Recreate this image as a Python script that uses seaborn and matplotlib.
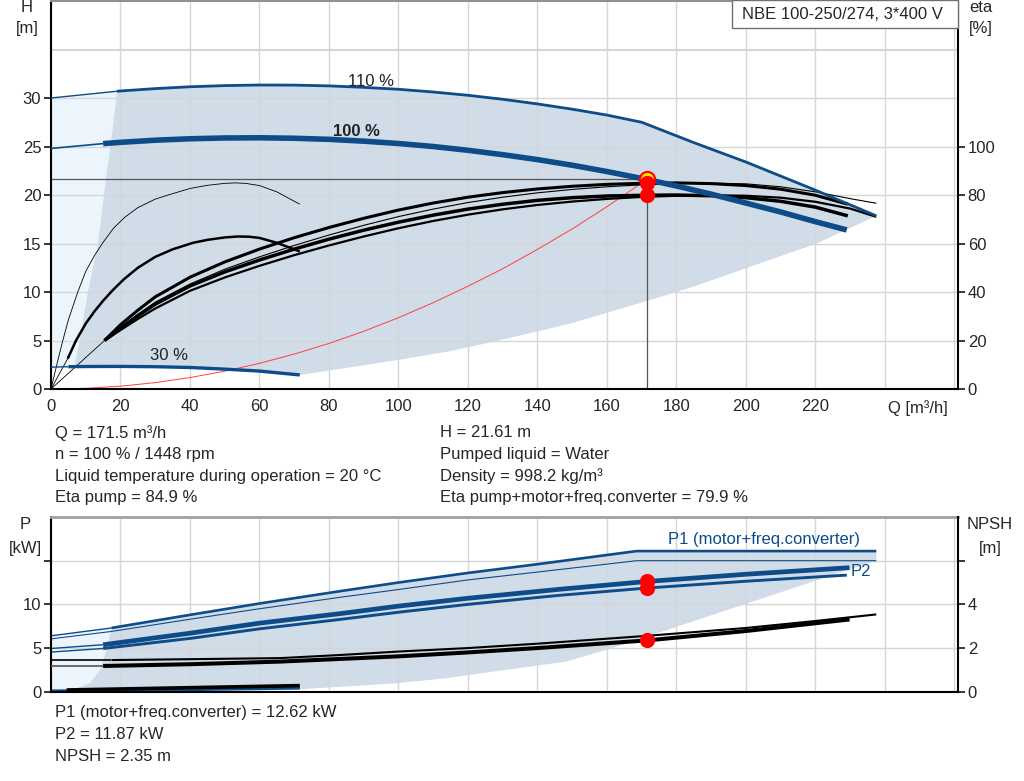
import matplotlib
matplotlib.use("Agg")
import matplotlib.pyplot as plt
import seaborn as sns

sns.set_style("white")
plt.rcParams["font.family"] = ["Liberation Sans", "DejaVu Sans"]
plt.rcParams["font.size"] = 12

BLUE = "#0d4c89"
FILL = "#d0dce8"
LIGHT = "#edf5fc"
GRID = "#d6d6d6"

# ---------------- head curves, H [m] ----------------
q_110_ext = [0, 19]
h_110_ext = [30.0, 30.7]
q_110 = [19, 30, 40, 50, 60, 70, 80, 90, 100, 110, 120, 130, 140, 150, 160, 170,
         185, 200, 220, 237.5]
h_110 = [30.7, 30.97, 31.16, 31.28, 31.34, 31.33, 31.25, 31.1, 30.9, 30.62, 30.28,
         29.87, 29.39, 28.85, 28.24, 27.5, 25.4, 23.4, 20.5, 17.85]

q_100_ext = [0, 15]
h_100_ext = [24.8, 25.3]
q_100 = [15, 20, 30, 40, 50, 60, 70, 80, 90, 100, 110, 120, 130, 140, 150, 160,
         171.5, 180, 190, 200, 210, 220, 229]
h_100 = [25.3, 25.43, 25.65, 25.8, 25.88, 25.9, 25.85, 25.74, 25.55, 25.31, 25.0,
         24.61, 24.16, 23.65, 23.07, 22.42, 21.6, 20.93, 20.09, 19.17, 18.25, 17.25, 16.4]

q_30_ext = [0, 5]
h_30_ext = [2.25, 2.3]
q_30 = [5, 10, 20, 30, 40, 50, 60, 71.6]
h_30 = [2.3, 2.32, 2.33, 2.3, 2.22, 2.05, 1.85, 1.45]

# system curve through duty point
q_sys = [0, 10, 20, 30, 40, 50, 60, 70, 80, 90, 100, 110, 120, 130, 140, 150, 160, 171.5]
h_sys = [0, 0.07, 0.29, 0.66, 1.18, 1.84, 2.65, 3.6, 4.7, 5.95, 7.35, 8.9, 10.6,
         12.4, 14.4, 16.5, 18.8, 21.61]

# operating area edges (H chart)
minflow_q = [19, 17.8, 16.7, 15.9, 13.5, 10.6, 8.2, 6.7]
minflow_h = [30.7, 27, 24, 21.95, 15, 10, 4.85, 2.36]
lower_q = [237.5, 220.3, 185.8, 175.2, 149.3, 128.2, 120.5, 113.8, 99.4, 71.6]
lower_h = [17.85, 15.0, 10.67, 9.47, 6.73, 4.95, 4.34, 3.83, 2.97, 1.44]

# ---------------- efficiency curves, eta [%] ----------------
q_eta_100 = [15.4, 20, 25, 30, 40, 50, 60, 70, 80, 90, 100, 110, 120, 130, 140, 150,
             160, 171.5, 180, 190, 200, 210, 220, 229.3]
eta_pump_100 = [20, 26.5, 32.5, 38, 46.1, 52.4, 57.7, 62.4, 66.6, 70.4, 73.8, 76.7,
                79.1, 81, 82.5, 83.6, 84.4, 84.9, 85.0, 84.7, 83.9, 82.4, 79.9, 76.2]
eta_tot_100 = [20, 25, 30.2, 35, 42.5, 48.3, 53.2, 57.7, 61.8, 65.5, 68.8, 71.7,
               74.2, 76.2, 77.8, 78.9, 79.6, 79.9, 80, 79.7, 78.9, 77.4, 75, 71.4]
q_eta_110 = [15.4, 20, 25, 30, 40, 50, 60, 70, 80, 90, 100, 110, 120, 130, 140, 150,
             160, 170, 180, 190, 200, 210, 220, 230, 237.5]
eta_pump_110 = [20, 25.3, 30.8, 35.8, 43.3, 49.4, 54.5, 59.2, 63.5, 67.5, 71.1, 74.2,
                76.9, 79.1, 80.9, 82.3, 83.4, 84.2, 84.7, 84.9, 84.6, 83.4, 81.3, 78.5, 76.6]
eta_tot_110 = [20, 24.3, 28.9, 33.2, 40.5, 46, 50.8, 55.2, 59.2, 62.9, 66.3, 69.3,
               71.9, 74.1, 75.9, 77.3, 78.4, 79.2, 79.7, 79.9, 79.7, 78.9, 77.2, 74.4, 71]
q_eta_30 = [0, 2, 3.4, 5, 7.7, 10, 12.5, 14.9, 18, 21.2, 25, 30, 33.7, 40, 45, 50,
            53, 56, 60, 65, 71.6]
eta_pump_30 = [0, 12, 20, 28.5, 40, 48.5, 55, 60.3, 66.3, 70.8, 74.8, 78.3, 80, 82.7,
               84, 84.8, 85, 84.8, 83.9, 81.3, 76.2]
q_eta_tot_30 = [4.8, 7.2, 10, 12.5, 15, 17.8, 21, 25, 30, 35, 40.9, 45, 50, 53.8, 57,
                60, 65, 71.6]
eta_tot_30 = [12.5, 20, 27, 32, 36.4, 40.8, 45.3, 50, 54.5, 57.6, 60.3, 61.5, 62.5,
              62.9, 62.8, 62.3, 60.3, 56.7]

# ---------------- power curves, P [kW] ----------------
q_p1_110_ext = [0, 17.4]
p1_110_ext = [6.4, 7.3]
q_p1_110 = [17.4, 40, 60, 83, 100, 120, 140, 168.5, 237.5]
p1_110 = [7.3, 8.8, 10.1, 11.5, 12.5, 13.6, 14.6, 16.1, 16.1]
q_p2_110 = [0, 17.4, 40, 60, 83, 100, 120, 140, 168.5, 237.5]
p2_110 = [6.05, 6.9, 8.3, 9.5, 10.8, 11.7, 12.8, 13.7, 15.0, 15.0]

q_p_ext = [0, 15]
p1_100_ext = [4.95, 5.38]
p2_100_ext = [4.54, 4.95]
q_p1_100 = [15, 40, 60, 83, 100, 120, 146.4, 171.5, 200, 229.8]
p1_100 = [5.38, 6.7, 7.85, 8.93, 9.8, 10.7, 11.73, 12.62, 13.45, 14.2]
q_p2_100 = [15, 40, 60, 83, 100, 120, 146.4, 171.5, 200, 229]
p2_100 = [4.95, 6.1, 7.2, 8.27, 9.1, 10.0, 11.04, 11.87, 12.65, 13.35]

q_p_30 = [0, 71.6]
p_30 = [0.05, 0.45]

# operating area edges (P chart)
minflow_pq = [17.4, 16, 14.1, 11.2, 6.4, 1.6]
minflow_p = [7.3, 4.8, 2.5, 0.97, 0.28, 0.05]
lower_pq = [237.5, 229.8, 160.8, 148.3, 120.5, 113.8, 99.4, 71.6]
lower_p = [15.0, 14.0, 4.9, 3.46, 1.93, 1.55, 0.97, 0.28]

# ---------------- NPSH curves [m] ----------------
q_npsh_110_ext = [0, 17.4]
npsh_110_ext = [1.45, 1.45]
q_npsh_110 = [17.4, 40, 66, 83, 100, 120, 140, 171.5, 200, 220, 237.5]
npsh_110 = [1.45, 1.49, 1.54, 1.68, 1.84, 2.0, 2.2, 2.56, 2.92, 3.24, 3.54]
q_npsh_100_ext = [0, 15]
npsh_100_ext = [1.18, 1.18]
q_npsh_100 = [15, 40, 66, 83, 100, 120, 140, 171.5, 200, 229.8]
npsh_100 = [1.18, 1.26, 1.38, 1.5, 1.62, 1.8, 2.0, 2.35, 2.78, 3.31]
q_npsh_30 = [4.5, 71.6]
npsh_30 = [0.08, 0.28]

# duty point
duty_q = 171.5
duty_h = 21.61
duty_eta_pump = 84.9
duty_eta_tot = 79.9
duty_p1 = 12.62
duty_p2 = 11.87
duty_npsh = 2.35

info_left = ["Q = 171.5 m³/h", "n = 100 % / 1448 rpm",
             "Liquid temperature during operation = 20 °C", "Eta pump = 84.9 %"]
info_right = ["H = 21.61 m", "Pumped liquid = Water", "Density = 998.2 kg/m³",
              "Eta pump+motor+freq.converter = 79.9 %"]
info_bottom = ["P1 (motor+freq.converter) = 12.62 kW", "P2 = 11.87 kW", "NPSH = 2.35 m"]

q_ticks = list(range(0, 261, 20))
q_labels = [str(v) if v <= 220 else "" for v in q_ticks]


def line(ax, q, v, color, lw):
    sns.lineplot(x=q, y=v, ax=ax, color=color, linewidth=lw,
                 estimator=None, sort=False, legend=False, solid_capstyle="butt")


fig = plt.figure(figsize=(10.24, 7.81), dpi=100)

# ================= top chart =================
ax1 = fig.add_axes([0.0498, 0.5019, 0.8857, 0.4968])
ax1.set_xlim(0, 261)
ax1.set_ylim(0, 40)
ax1.set_xticks(q_ticks)
ax1.set_xticklabels(q_labels)
ax1.set_yticks(range(0, 31, 5))
ax1.set_axisbelow("line")
ax1.grid(True, color=GRID, lw=1)
ax1.axhline(35, color=GRID, lw=1.5, zorder=1.5)
ax1.tick_params(axis="both", direction="out", length=5, width=1.3, pad=2, labelsize=12)

ax1.fill(q_110_ext + minflow_q + q_30_ext[::-1], h_110_ext + minflow_h + h_30_ext[::-1],
         color=LIGHT, lw=0, zorder=1)
ax1.fill(q_110 + lower_q[1:] + q_30[::-1][1:] + minflow_q[::-1],
         h_110 + lower_h[1:] + h_30[::-1][1:] + minflow_h[::-1],
         color=FILL, lw=0, zorder=1)
ax1.plot([0, duty_q], [duty_h, duty_h], color="#555555", lw=0.9, zorder=2)
ax1.plot([duty_q, duty_q], [0, duty_h], color="#555555", lw=0.9, zorder=2)
line(ax1, q_sys, h_sys, "#ff4040", 0.7)

for s in ["left", "bottom"]:
    ax1.spines[s].set_color("black")
    ax1.spines[s].set_linewidth(1.5)
ax1.spines["right"].set_visible(False)
ax1.spines["top"].set_color("#909090")
ax1.spines["top"].set_linewidth(1.5)

# efficiency axis
ax1e = ax1.twinx()
ax1e.set_ylim(0, 160)
ax1e.set_yticks(range(0, 101, 20))
ax1e.tick_params(axis="y", direction="out", length=5, width=1.3, pad=2, labelsize=12)
for s in ["left", "top", "bottom"]:
    ax1e.spines[s].set_visible(False)
ax1e.spines["right"].set_color("black")
ax1e.spines["right"].set_linewidth(1.5)

for q0, e0 in [(q_eta_100[0], eta_pump_100[0]), (q_eta_tot_30[0], eta_tot_30[0])]:
    line(ax1e, [0, q0], [0, e0], "black", 0.6)
line(ax1e, q_eta_30, eta_pump_30, "black", 0.6)
line(ax1e, q_eta_tot_30, eta_tot_30, "black", 1.8)
line(ax1e, q_eta_110, eta_pump_110, "black", 0.8)
line(ax1e, q_eta_110, eta_tot_110, "black", 1.6)
line(ax1e, q_eta_100, eta_tot_100, "black", 2.5)
line(ax1e, q_eta_100, eta_pump_100, "black", 2.2)

# head curves on top
ax1h = ax1.twinx()
ax1h.set_ylim(0, 40)
ax1h.axis("off")
line(ax1h, q_110_ext, h_110_ext, BLUE, 1.0)
line(ax1h, q_100_ext, h_100_ext, BLUE, 1.2)
line(ax1h, q_30_ext, h_30_ext, BLUE, 1.0)
line(ax1h, q_110, h_110, BLUE, 2.0)
line(ax1h, q_100, h_100, BLUE, 4.0)
line(ax1h, q_30, h_30, BLUE, 2.4)
ax1h.text(92, 31.7, "110 %", ha="center", va="center", color="#222222")
ax1h.text(88, 26.5, "100 %", ha="center", va="center", color="#222222", fontweight="bold")
ax1h.text(34, 3.5, "30 %", ha="center", va="center", color="#222222")

sns.scatterplot(x=[duty_q], y=[duty_h], ax=ax1h, s=120, color="#ffe600",
                edgecolor="red", linewidth=1.5, zorder=6)
ax1p = ax1.twinx()
ax1p.set_ylim(0, 160)
ax1p.axis("off")
sns.scatterplot(x=[duty_q, duty_q], y=[duty_eta_pump, duty_eta_tot], ax=ax1p,
                s=120, color="red", linewidth=0, zorder=6)

# ================= bottom chart =================
ax2 = fig.add_axes([0.0498, 0.1143, 0.8857, 0.2237])
ax2.set_xlim(0, 261)
ax2.set_ylim(0, 20)
ax2.set_xticks(q_ticks)
ax2.set_xticklabels([])
ax2.set_yticks(range(0, 16, 5))
ax2.set_yticklabels(["0", "5", "10", ""])
ax2.set_axisbelow("line")
ax2.grid(True, color=GRID, lw=1)
ax2.tick_params(axis="y", direction="out", length=5, width=1.3, pad=2, labelsize=12)
ax2.tick_params(axis="x", length=0)

ax2.fill(q_p1_110_ext + minflow_pq + [0], p1_110_ext + minflow_p + [p_30[0]],
         color=LIGHT, lw=0, zorder=1)
ax2.fill(q_p1_110 + lower_pq + minflow_pq[-2::-1],
         p1_110 + lower_p + minflow_p[-2::-1],
         color=FILL, lw=0, zorder=1)

line(ax2, q_p1_110_ext, p1_110_ext, BLUE, 1.0)
line(ax2, q_p1_110, p1_110, BLUE, 1.9)
line(ax2, q_p2_110, p2_110, BLUE, 0.8)
line(ax2, q_p_ext, p1_100_ext, BLUE, 1.0)
line(ax2, q_p_ext, p2_100_ext, BLUE, 1.0)
line(ax2, q_p1_100, p1_100, BLUE, 3.4)
line(ax2, q_p2_100, p2_100, BLUE, 2.1)
line(ax2, q_p_30, p_30, BLUE, 2.6)
sns.scatterplot(x=[duty_q, duty_q], y=[duty_p1, duty_p2], ax=ax2, s=120,
                color="red", linewidth=0, zorder=6)
ax2.text(177.7, 17.4, "P1 (motor+freq.converter)", color=BLUE, va="center")
ax2.text(230, 13.8, "P2", color=BLUE, va="center")

for s in ["left", "bottom"]:
    ax2.spines[s].set_color("black")
    ax2.spines[s].set_linewidth(1.5)
ax2.spines["right"].set_visible(False)
ax2.spines["top"].set_color("#a0a0a0")
ax2.spines["top"].set_linewidth(2)

ax2n = ax2.twinx()
ax2n.set_ylim(0, 8)
ax2n.set_yticks(range(0, 7, 2))
ax2n.set_yticklabels(["0", "2", "4", ""])
ax2n.tick_params(axis="y", direction="out", length=5, width=1.3, pad=2, labelsize=12)
for s in ["left", "top", "bottom"]:
    ax2n.spines[s].set_visible(False)
ax2n.spines["right"].set_color("black")
ax2n.spines["right"].set_linewidth(1.5)

line(ax2n, q_npsh_110_ext, npsh_110_ext, "black", 1.2)
line(ax2n, q_npsh_100_ext, npsh_100_ext, "#555555", 1.2)
line(ax2n, q_npsh_110, npsh_110, "black", 1.5)
line(ax2n, q_npsh_100, npsh_100, "black", 2.9)
line(ax2n, q_npsh_30, npsh_30, "black", 2.6)
sns.scatterplot(x=[duty_q], y=[duty_npsh], ax=ax2n, s=120, color="red",
                linewidth=0, zorder=6)

# ================= texts =================
fig.text(0.0264, 0.9898, "H", ha="center", va="center")
fig.text(0.0264, 0.9641, "[m]", ha="center", va="center")
fig.text(0.958, 0.9898, "eta", ha="center", va="center")
fig.text(0.958, 0.9641, "[%]", ha="center", va="center")
fig.text(0.8965, 0.4776, "Q [m³/h]", ha="center", va="center")
fig.text(0.0245, 0.3278, "P", ha="center", va="center")
fig.text(0.0245, 0.2983, "[kW]", ha="center", va="center")
fig.text(0.9668, 0.3278, "NPSH", ha="center", va="center")
fig.text(0.9668, 0.2983, "[m]", ha="center", va="center")

fig.patches.append(plt.Rectangle((0.7148, 0.9641), 0.2207, 0.0355, transform=fig.transFigure,
                                 facecolor="white", edgecolor="#707070", lw=1.0))
fig.text(0.7246, 0.982, "NBE 100-250/274, 3*400 V", ha="left", va="center")

for i, t in enumerate(info_left):
    fig.text(0.0537, 0.4456 - i * 0.0277, t, ha="left", va="center")
for i, t in enumerate(info_right):
    fig.text(0.4297, 0.4456 - i * 0.0277, t, ha="left", va="center")
for i, t in enumerate(info_bottom):
    fig.text(0.0537, 0.0871 - i * 0.0277, t, ha="left", va="center")

fig.savefig("out.png", dpi=100)
